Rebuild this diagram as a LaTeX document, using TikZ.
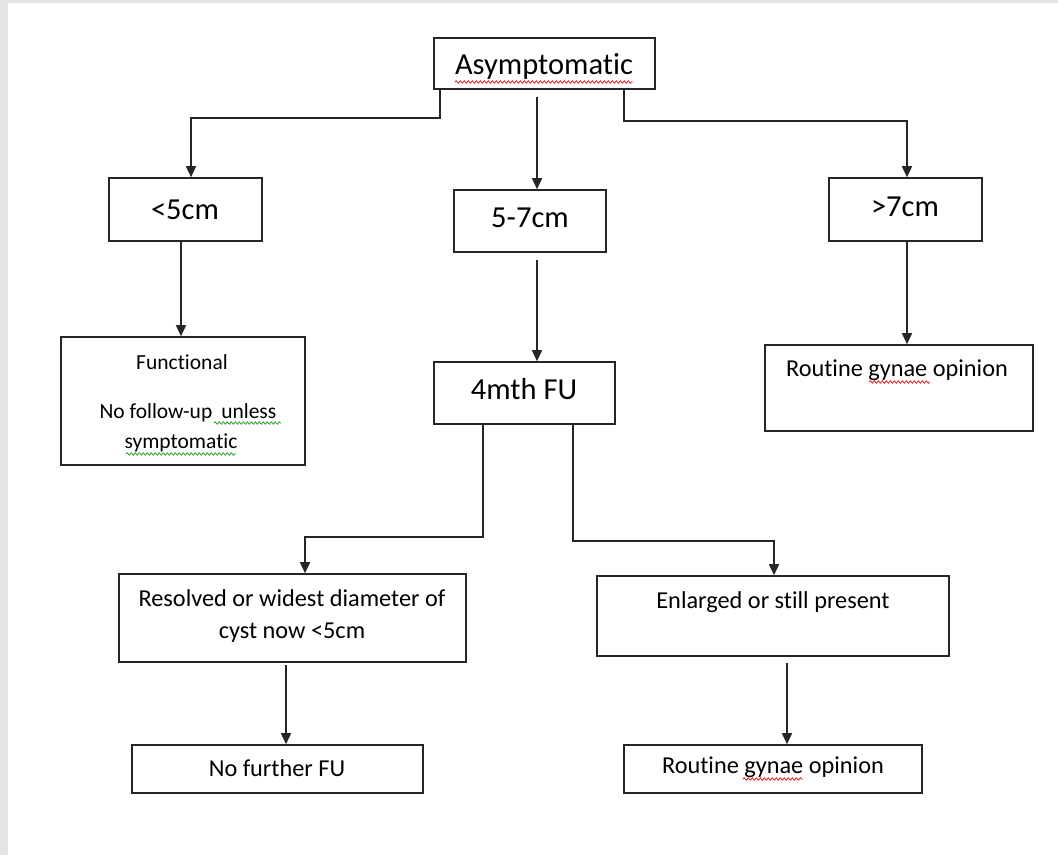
\documentclass[tikz,border=0pt]{standalone}
\usepackage{fontspec}
\setmainfont[Ligatures=CommonOff]{Carlito}
\usetikzlibrary{arrows.meta,decorations.pathmorphing}
\definecolor{pagegray}{HTML}{E6E3E3}
\definecolor{wavered}{HTML}{E02020}
\definecolor{wavegreen}{HTML}{30A030}
\tikzset{
  box/.style={draw=black!85, line width=1.6pt, rectangle, inner sep=0pt},
  arr/.style={draw=black!85, line width=1.6pt, -{Triangle[length=11pt,width=10pt]}},
  big/.style={font=\fontsize{30.5}{36}\selectfont, inner sep=0pt, anchor=center},
  mid/.style={font=\fontsize{24.3}{32}\selectfont, inner sep=0pt, anchor=center, align=center},
  small/.style={font=\fontsize{21.5}{30}\selectfont, inner sep=0pt, anchor=center, align=center},
  wavy/.style={line width=0.8pt, decorate, decoration={snake, amplitude=1.2pt, segment length=4pt}}
}
\begin{document}
\begin{tikzpicture}[x=1pt,y=-1pt]
\useasboundingbox (0,0) rectangle (1058,855);
\fill[pagegray] (0,0) rectangle (1058,855);
\fill[white] (8,3) rectangle (1058,855);
% boxes
\node[box, minimum width=221pt, minimum height=51pt] (A) at (544.5,63.5) {};
\node[box, minimum width=153pt, minimum height=63pt] (L1) at (185.5,209.5) {};
\node[box, minimum width=152pt, minimum height=62pt] (M1) at (530,221) {};
\node[box, minimum width=153pt, minimum height=63pt] (R1) at (905.5,209.5) {};
\node[box, minimum width=244pt, minimum height=128pt] (L2) at (183,401) {};
\node[box, minimum width=181pt, minimum height=62pt] (M2) at (524.5,393) {};
\node[box, minimum width=268pt, minimum height=86pt] (R2) at (899,388) {};
\node[box, minimum width=347pt, minimum height=88pt] (B1) at (292.5,618) {};
\node[box, minimum width=352pt, minimum height=80pt] (B2) at (773,616) {};
\node[box, minimum width=291pt, minimum height=48pt] (C1) at (277.5,769) {};
\node[box, minimum width=298pt, minimum height=48pt] (C2) at (773,769) {};
% texts
\node[big] (tA) at (544,66) {Asymptomatic};
\node[big] (tL1) at (185,210) {<5cm};
\node[big] (tM1) at (530,218) {5-7cm};
\node[big] (tR1) at (905,207) {>7cm};
\node[small] (tL2a) at (182,362) {Functional};
\node[small] (tL2b) at (188,413) {No follow-up\hspace{9pt}unless};
\node[small] (tL2c) at (181,443) {symptomatic};
\node[big] (tM2) at (524,389) {4mth FU};
\node[mid] (tR2) at (897,370) {Routine gynae opinion};
\node[mid] (tB1) at (292,616) {Resolved or widest diameter of\\cyst now <5cm};
\node[mid] (tB2) at (773,602) {Enlarged or still present};
\node[mid] (tC1) at (277,768) {No further FU};
\node[mid] (tC2) at (773,767) {Routine gynae opinion};
% spell-check underlines
\draw[wavy, wavered] (455,82) -- (633,82);
\draw[wavy, wavered] (869,382) -- (930,382);
\draw[wavy, wavered] (743,779) -- (803,779);
\draw[wavy, wavegreen] (214,423) -- (281,423);
\draw[wavy, wavegreen] (126,454) -- (236,454);
% connector coordinates
\coordinate (a1) at (440,118);
\coordinate (a2) at (191,118);
\coordinate (b1) at (537,97);
\coordinate (c1) at (624,121);
\coordinate (c2) at (907,121);
\coordinate (d1) at (181,0);
\coordinate (e1) at (537,260);
\coordinate (f1) at (907,0);
\coordinate (g1) at (483,537);
\coordinate (g2) at (305,537);
\coordinate (h1) at (573,541);
\coordinate (h2) at (774,541);
\coordinate (i1) at (286,665);
\coordinate (j1) at (787,663);
% connectors
\draw[arr] (A.south -| a1) -- (a1) -- (a2) -- (L1.north -| a2);
\draw[arr] (b1) -- (M1.north -| b1);
\draw[arr] (A.south -| c1) -- (c1) -- (c2) -- (R1.north -| c2);
\draw[arr] (L1.south -| d1) -- (L2.north -| d1);
\draw[arr] (e1) -- (M2.north -| e1);
\draw[arr] (R1.south -| f1) -- (R2.north -| f1);
\draw[arr] (M2.south -| g1) -- (g1) -- (g2) -- (B1.north -| g2);
\draw[arr] (M2.south -| h1) -- (h1) -- (h2) -- (B2.north -| h2);
\draw[arr] (i1) -- (C1.north -| i1);
\draw[arr] (j1) -- (C2.north -| j1);
\end{tikzpicture}
\end{document}
